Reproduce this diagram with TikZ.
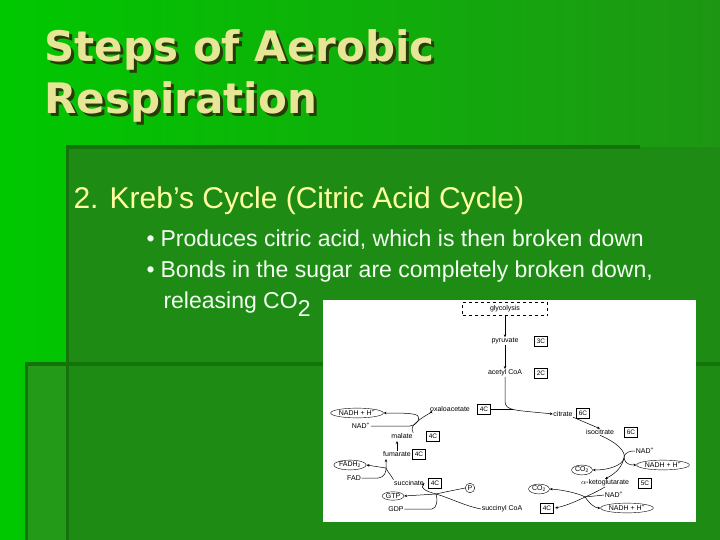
\documentclass[tikz,border=0pt]{standalone}
\usepackage{fontspec}
\setmainfont{Liberation Sans}
\newfontfamily\titlefont{DejaVu Sans}
\usetikzlibrary{arrows.meta,shapes.geometric}
\definecolor{gbright}{RGB}{0,200,0}
\definecolor{gmid}{RGB}{30,150,20}
\definecolor{gbody}{RGB}{30,140,20}
\definecolor{gline}{RGB}{20,115,10}
\definecolor{glow}{RGB}{35,155,25}
\definecolor{tshadow}{RGB}{40,60,10}
\definecolor{tyellow}{RGB}{230,230,150}
\definecolor{syellow}{RGB}{255,255,160}
\begin{document}
\begin{tikzpicture}[x=1pt,y=-1pt,
  lbl/.style={font=\fontsize{7}{8}\selectfont,inner sep=0.5pt},
  cbox/.style={draw,font=\fontsize{6.5}{7}\selectfont,minimum width=13pt,minimum height=10.5pt,inner sep=0.5pt},
  ell/.style={draw,ellipse,font=\fontsize{7}{8}\selectfont,inner sep=0.5pt},
  arr/.style={-{Stealth[length=3pt,width=2.5pt]},line width=0.5pt},
  ln/.style={line width=0.5pt}]
\useasboundingbox (0,0) rectangle (720,540);
% background
\shade[left color=gbright,right color=gmid] (0,0) rectangle (720,540);
\fill[gbody] (67,147) rectangle (720,540);
\fill[gline] (66,145) rectangle (69,540);
\fill[gline] (67,145) rectangle (640,149);
\fill[glow] (25,362) rectangle (720,540);
\fill[gline] (25,362) rectangle (720,366);
\fill[gline] (25,362) rectangle (28,540);
\fill[gbody] (69,366) rectangle (720,540);
\fill[gline] (66,366) rectangle (69,540);
% title
\node[anchor=west,font=\titlefont\bfseries\fontsize{42}{52}\selectfont,text=tshadow,align=left] at (44,79) {Steps of Aerobic\\Respiration};
\node[anchor=west,font=\titlefont\bfseries\fontsize{42}{52}\selectfont,text=tyellow,align=left] (title) at (41,76) {Steps of Aerobic\\Respiration};
\node[anchor=west,font=\fontsize{30}{34}\selectfont,text=syellow] (sub) at (70,201) {2. Kreb’s Cycle (Citric Acid Cycle)};
\node[anchor=west,font=\fontsize{23}{26}\selectfont,text=white!95!green] (b1) at (143,240) {•\hspace{6pt}Produces citric acid, which is then broken down};
\node[anchor=west,font=\fontsize{23}{26}\selectfont,text=white!95!green] (b2) at (143,272) {•\hspace{6pt}Bonds in the sugar are completely broken down,};
\node[anchor=west,font=\fontsize{23}{26}\selectfont,text=white!95!green] (b3) at (160,304) {releasing CO\raisebox{-8pt}{2}};
% diagram panel
\fill[white] (323,300) rectangle (696,522);
\node[draw,dashed,minimum width=85pt,minimum height=12pt,font=\fontsize{7}{8}\selectfont] (gly) at (505,309) {glycolysis};
\node[lbl] (pyr) at (505,341) {pyruvate};
\node[cbox] at (541,341) {3C};
\node[lbl] (acc) at (505,373) {acetyl CoA};
\node[cbox] at (541,373) {2C};
\node[lbl] (oxa) at (450,409) {oxaloacetate};
\node[cbox] (oxac) at (484,409) {4C};
\node[lbl] (cit) at (563,414) {citrate};
\node[cbox] at (583,413) {6C};
\node[lbl] (iso) at (600,432) {isocitrate};
\node[cbox] at (631,432) {6C};
\node[lbl] (nad1) at (645,451) {NAD\textsuperscript{+}};
\node[ell,minimum width=48pt] (nadh1) at (663,465) {NADH + H\textsuperscript{+}};
\node[ell] (co21) at (582,470) {CO\textsubscript{2}};
\node[lbl] (akg) at (605,483) {$\alpha$-ketoglutarate};
\node[cbox] at (645,483) {5C};
\node[ell] (co22) at (539,489) {CO\textsubscript{2}};
\node[lbl] (nad2) at (614,495) {NAD\textsuperscript{+}};
\node[ell,minimum width=48pt] (nadh2) at (627,508) {NADH + H\textsuperscript{+}};
\node[lbl] (suc) at (502,509) {succinyl CoA};
\node[cbox] at (547,508) {4C};
\node[draw,circle,inner sep=1pt,font=\fontsize{7}{8}\selectfont] (p) at (470,488) {P};
\node[ell] (gtp) at (393,496) {GTP};
\node[lbl] (gdp) at (396,509) {GDP};
\node[lbl] (scn) at (409,483) {succinate};
\node[cbox] at (435,483) {4C};
\node[lbl] (fad) at (354,478) {FAD};
\node[ell,minimum width=26pt] (fadh) at (350,465) {FADH\textsubscript{2}};
\node[lbl] (fum) at (397,454) {fumarate};
\node[cbox] at (419,454) {4C};
\node[lbl] (mal) at (402,436) {malate};
\node[cbox] at (433,436) {4C};
\node[lbl] (nad3) at (361,426) {NAD\textsuperscript{+}};
\node[ell,minimum width=48pt] (nadh3) at (357,413) {NADH + H\textsuperscript{+}};
% main flow
\draw[arr] (gly) -- (pyr);
\draw[arr] (pyr) -- (acc);
\draw[arr] (acc) -- (505,402) .. controls (506,411) and (515,410) .. (cit.west);
\draw[ln] (oxac.east) -- (513,409);
\draw[arr] (cit.south east) -- (iso.north);
% isocitrate -> akg
\coordinate (k1) at (624,458);
\draw[arr] (iso.south) .. controls (618,443) and (626,452) .. (k1) .. controls (622,466) and (618,472) .. (akg.north);
\draw[ln] (nad1.west) -- (632,451) .. controls (626,452) and (624,455) .. (k1);
\draw[arr] (k1) .. controls (625,464) and (630,465) .. (nadh1.west);
\draw[arr] (k1) .. controls (622,466) and (608,470) .. (co21.east);
% akg -> succinyl
\coordinate (k2) at (585,497);
\draw[arr] (akg.south) .. controls (600,490) and (592,494) .. (k2) .. controls (575,502) and (565,506) .. (555,508);
\draw[ln] (nad2.west) -- (k2);
\draw[arr] (k2) .. controls (580,494) and (565,490) .. (co22.east);
\draw[arr] (k2) .. controls (590,504) and (595,508) .. (nadh2.west);
% succinyl -> succinate
\coordinate (k3) at (436,494);
\draw[arr] (suc.west) .. controls (465,506) and (450,498) .. (k3) .. controls (425,491) and (420,488) .. (scn.east);
\draw[ln] (p.west) .. controls (455,490) and (445,492) .. (k3);
\draw[arr] (k3) -- (gtp.east);
\draw[ln] (gdp.east) -- (432,509) .. controls (437,508) and (438,500) .. (k3);
% succinate -> fumarate
\coordinate (k4) at (386,468);
\draw[arr] (scn.north west) .. controls (391,475) and (387,471) .. (k4) -- (386,459);
\draw[arr] (k4) -- (fadh.east);
\draw[ln] (fad.east) -- (378,478) .. controls (385,477) and (386,472) .. (k4);
% fumarate -> malate
\draw[arr] (fum.north) -- (397,441);
% malate -> oxaloacetate
\coordinate (k5) at (418,421);
\draw[arr] (mal.north east) .. controls (410,428) and (414,424) .. (k5) .. controls (425,415) and (433,412) .. (oxa.south west);
\draw[ln] (nad3.east) -- (410,426) .. controls (415,425) and (417,423) .. (k5);
\draw[arr] (k5) .. controls (420,414) and (418,413) .. (nadh3.east);
\end{tikzpicture}
\end{document}
